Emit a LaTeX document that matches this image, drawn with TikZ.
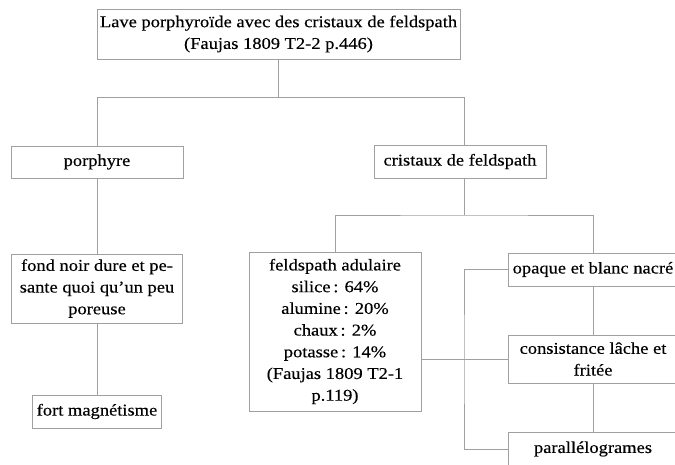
\documentclass[tikz,border=0pt]{standalone}
\usepackage{fontspec}
\setmainfont[FakeStretch=1.12,FakeBold=0.3]{Liberation Serif}
\definecolor{linegray}{RGB}{160,160,160}
\begin{document}
\begin{tikzpicture}[x=1pt,y=-1pt,
  box/.style={draw=linegray, line width=1pt, fill=white, align=center, inner sep=0pt,
    font=\fontsize{16.5}{21.7}\selectfont},
  conn/.style={draw=linegray, line width=1pt}]
\useasboundingbox (0,0) rectangle (675,464);
\fill[white] (0,0) rectangle (675,464);
\clip (0,0) rectangle (675,464);

\node[box, minimum width=363pt, minimum height=50pt] (top) at (278.5,34)
  {Lave porphyroïde avec des cristaux de feldspath\\(Faujas 1809 T2-2 p.446)};
\node[box, minimum width=172pt, minimum height=32pt] (porphyre) at (97,162) {porphyre};
\node[box, minimum width=172pt, minimum height=33pt] (cristaux) at (460,161.5) {cristaux de feldspath};
\node[box, minimum width=171pt, minimum height=69pt] (fond) at (97,288.5)
  {fond noir dure et pe-\\sante quoi qu’un peu\\poreuse};
\node[box, minimum width=129pt, minimum height=33pt] (fort) at (97,411.5) {fort magnétisme};
\node[box, minimum width=172pt, minimum height=159pt] (feld) at (335,331.5)
  {feldspath adulaire\\silice\,: 64\%\\alumine\,: 20\%\\chaux\,: 2\%\\potasse\,: 14\%\\(Faujas 1809 T2-1\\p.119)};
\node[box, minimum width=170pt, minimum height=33pt] (opaque) at (593,269.5) {opaque et blanc nacré};
\node[box, minimum width=170pt, minimum height=48pt] (cons) at (593,359)
  {consistance lâche et\\fritée};
\node[box, minimum width=170pt, minimum height=34pt] (para) at (593,449) {parallélogrames};

\coordinate (jL) at (97,97);
\coordinate (jR) at (464,97);
\coordinate (k) at (464,215);
\coordinate (kR) at (593,215);
\coordinate (bx) at (464,359);

\draw[conn] (top.south) -- (top.south |- jL);
\draw[conn] (porphyre.north) -- (jL) -- (jR) -- (jR |- cristaux.north);
\draw[conn] (porphyre.south) -- (fond.north);
\draw[conn] (fond.south) -- (fort.north);
\draw[conn] (cristaux.south -| k) -- (k);
\draw[conn] (feld.north) |- (k) -- (kR) -- (opaque.north);
\draw[conn] (opaque.south) -- (cons.north);
\draw[conn] (cons.south) -- (para.north);
\draw[conn] (opaque.west) -| (bx) |- (para.west);
\draw[conn] (feld.east |- cons.west) -- (cons.west);
\end{tikzpicture}
\end{document}
